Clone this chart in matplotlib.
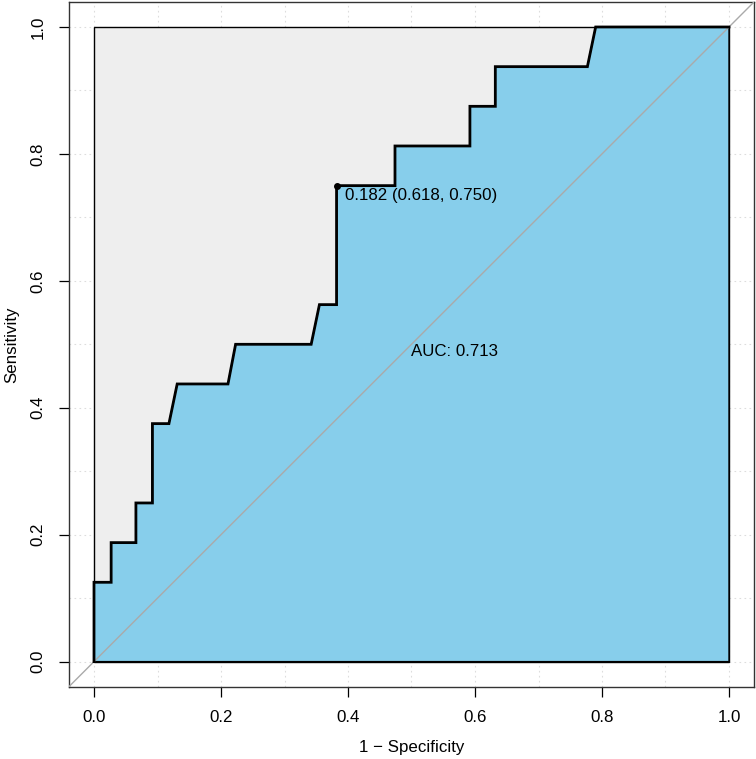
import matplotlib
matplotlib.use("Agg")
import matplotlib.pyplot as plt
import numpy as np

plt.rcParams["font.family"] = ["Liberation Sans", "DejaVu Sans"]

# ROC curve vertices (1 - specificity, sensitivity)
fpr = [0, 0, 0.027, 0.027, 0.066, 0.066, 0.092, 0.092, 0.118, 0.131, 0.211,
       0.223, 0.342, 0.355, 0.382, 0.382, 0.474, 0.474, 0.592, 0.592, 0.632,
       0.632, 0.777, 0.790, 1.0]
tpr = [0, 0.125, 0.125, 0.1875, 0.1875, 0.25, 0.25, 0.375, 0.375, 0.4375,
       0.4375, 0.5, 0.5, 0.5625, 0.5625, 0.75, 0.75, 0.8125, 0.8125, 0.875,
       0.875, 0.9375, 0.9375, 1.0, 1.0]

thr_value = 0.182
thr_spec = 0.618
thr_sens = 0.750
auc_value = 0.713

ticks = [0.0, 0.2, 0.4, 0.6, 0.8, 1.0]
tick_labels = ["0.0", "0.2", "0.4", "0.6", "0.8", "1.0"]

FS = 12.2

fig = plt.figure(figsize=(7.56, 7.59), dpi=100)
ax = fig.add_axes([68.6 / 756, 1 - 687 / 759, (754.4 - 68.6) / 756, (687 - 1.6) / 759])
ax.set_xlim(-0.04, 1.04)
ax.set_ylim(-0.04, 1.04)

# grid (dotted, light)
for g in np.arange(0, 1.01, 0.1):
    ax.axvline(g, color="#DDDDDD", lw=0.8, ls=(0, (1.5, 3)), zorder=0)
    ax.axhline(g, color="#DDDDDD", lw=0.8, ls=(0, (1.5, 3)), zorder=0)

# max AUC square
ax.fill([0, 0, 1, 1], [0, 1, 1, 0], facecolor="#EEEEEE", edgecolor="black",
        lw=1.0, zorder=1)
# AUC polygon
px = fpr + [1.0, 0.0]
py = tpr + [0.0, 0.0]
ax.fill(px, py, facecolor="#87CEEB", edgecolor="black", lw=1.0, zorder=2)

# identity line
ax.plot([-0.04, 1.04], [-0.04, 1.04], color="#AAAAAA", lw=1.0, zorder=3)

# ROC curve
ax.plot(fpr, tpr, color="black", lw=2.0, zorder=4, solid_joinstyle="miter")

# best threshold
tx = 1 - thr_spec
ax.plot([tx], [thr_sens], "o", color="black", ms=4, zorder=5)
ax.annotate(f"{thr_value:.3f} ({thr_spec:.3f}, {thr_sens:.3f})", (tx, thr_sens),
            xytext=(8, -10), textcoords="offset pixels", ha="left", va="center",
            fontsize=FS, zorder=6)

ax.text(0.5, 0.5, f"AUC: {auc_value:.3f}", ha="left", va="top", fontsize=FS, zorder=6)

ax.set_xticks(ticks)
ax.set_xticklabels(tick_labels)
ax.set_yticks(ticks)
ax.set_yticklabels(tick_labels, rotation=90, va="center")
ax.tick_params(direction="out", length=7.5, width=0.9, labelsize=FS, pad=9)
for s in ax.spines.values():
    s.set_linewidth(1.0)
    s.set_color("#333333")

ax.set_xlabel("1 \u2212 Specificity", fontsize=FS, labelpad=11)
ax.set_ylabel("Sensitivity", fontsize=FS, labelpad=8)

fig.savefig("out.png", dpi=100)
